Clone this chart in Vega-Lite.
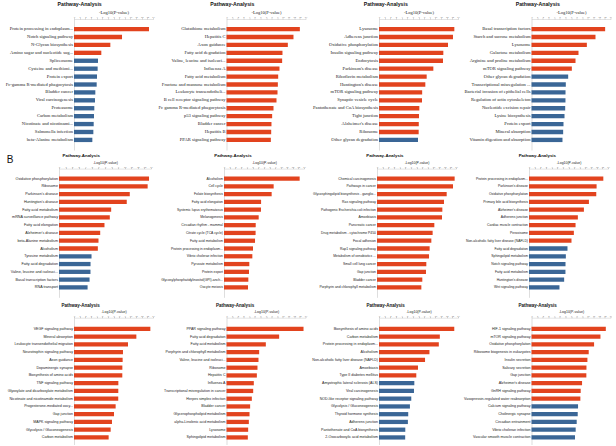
{
"$schema": "https://vega.github.io/schema/vega-lite/v6.json",
"padding": {"left": 5, "top": 2, "right": 0, "bottom": 0},
"background": "white",
"data": {"values": [
{"p":"a1","n":"Protein processing in endoplasm...","v":13.29,"d":"up"},
{"p":"a1","n":"Notch signaling pathway","v":8.51,"d":"up"},
{"p":"a1","n":"N-Glycan biosynthesis","v":6.44,"d":"up"},
{"p":"a1","n":"Amino sugar and nucleotide sug...","v":4.84,"d":"up"},
{"p":"a1","n":"Spliceosome","v":4.25,"d":"down"},
{"p":"a1","n":"Cysteine and methioni...","v":4.19,"d":"down"},
{"p":"a1","n":"Protein export","v":4.08,"d":"down"},
{"p":"a1","n":"Fc-gamma R-mediated phagocytosis","v":4.02,"d":"down"},
{"p":"a1","n":"Bladder cancer","v":3.78,"d":"down"},
{"p":"a1","n":"Viral carcinogenesis","v":3.72,"d":"down"},
{"p":"a1","n":"Proteasome","v":3.6,"d":"down"},
{"p":"a1","n":"Carbon metabolism","v":3.54,"d":"down"},
{"p":"a1","n":"Nicotinate and nicotinami...","v":3.49,"d":"down"},
{"p":"a1","n":"Salmonella infection","v":3.43,"d":"down"},
{"p":"a1","n":"beta-Alanine metabolism","v":3.25,"d":"down"},
{"p":"a2","n":"Glutathione metabolism","v":13.0,"d":"up"},
{"p":"a2","n":"Hepatitis C","v":11.87,"d":"up"},
{"p":"a2","n":"Axon guidance","v":10.87,"d":"up"},
{"p":"a2","n":"Fatty acid degradation","v":9.92,"d":"up"},
{"p":"a2","n":"Valine, leucine and isoleuci...","v":9.86,"d":"up"},
{"p":"a2","n":"Influenza A","v":9.39,"d":"up"},
{"p":"a2","n":"Fatty acid metabolism","v":9.16,"d":"up"},
{"p":"a2","n":"Fructose and mannose metabolism","v":9.1,"d":"up"},
{"p":"a2","n":"Leukocyte transendotheli...","v":9.04,"d":"up"},
{"p":"a2","n":"B cell receptor signaling pathway","v":8.86,"d":"up"},
{"p":"a2","n":"Fc gamma R-mediated phagocytosis","v":8.33,"d":"up"},
{"p":"a2","n":"p53 signaling pathway","v":8.09,"d":"up"},
{"p":"a2","n":"Bladder cancer","v":7.97,"d":"up"},
{"p":"a2","n":"Hepatitis B","v":7.92,"d":"up"},
{"p":"a2","n":"PPAR signaling pathway","v":7.86,"d":"up"},
{"p":"a3","n":"Lysosome","v":13.35,"d":"up"},
{"p":"a3","n":"Adherens junction","v":13.11,"d":"up"},
{"p":"a3","n":"Oxidative phosphorylation","v":12.23,"d":"up"},
{"p":"a3","n":"Insulin signaling pathway","v":11.4,"d":"up"},
{"p":"a3","n":"Endocytosis","v":11.34,"d":"up"},
{"p":"a3","n":"Parkinson's disease","v":9.63,"d":"up"},
{"p":"a3","n":"Riboflavin metabolism","v":8.45,"d":"up"},
{"p":"a3","n":"Huntington's disease","v":8.21,"d":"up"},
{"p":"a3","n":"mTOR signaling pathway","v":7.65,"d":"up"},
{"p":"a3","n":"Synaptic vesicle cycle","v":7.62,"d":"up"},
{"p":"a3","n":"Pantothenate and CoA biosynthesis","v":7.15,"d":"up"},
{"p":"a3","n":"Tight junction","v":7.09,"d":"up"},
{"p":"a3","n":"Alzheimer's disease","v":7.05,"d":"up"},
{"p":"a3","n":"Ribosome","v":7.03,"d":"up"},
{"p":"a3","n":"Other glycan degradation","v":6.91,"d":"down"},
{"p":"a4","n":"Basal transcription factors","v":13.05,"d":"up"},
{"p":"a4","n":"Starch and sucrose metabolism","v":11.34,"d":"up"},
{"p":"a4","n":"Lysosome","v":9.81,"d":"up"},
{"p":"a4","n":"Galactose metabolism","v":8.33,"d":"up"},
{"p":"a4","n":"Arginine and proline metabolism","v":7.8,"d":"up"},
{"p":"a4","n":"mTOR signaling pathway","v":7.15,"d":"up"},
{"p":"a4","n":"Other glycan degradation","v":6.5,"d":"down"},
{"p":"a4","n":"Transcriptional misregulation ...","v":6.08,"d":"down"},
{"p":"a4","n":"Bacterial invasion of epithelial cells","v":6.03,"d":"down"},
{"p":"a4","n":"Regulation of actin cytoskeleton","v":6.02,"d":"down"},
{"p":"a4","n":"Nucleotide excision repair","v":5.97,"d":"down"},
{"p":"a4","n":"Lysine biosynthesis","v":5.85,"d":"down"},
{"p":"a4","n":"Protein export","v":5.67,"d":"down"},
{"p":"a4","n":"Mineral absorption","v":5.61,"d":"down"},
{"p":"a4","n":"Vitamin digestion and absorption","v":5.49,"d":"down"},
{"p":"b1","n":"Oxidative phosphorylation","v":13.7,"d":"up"},
{"p":"b1","n":"Ribosome","v":13.49,"d":"up"},
{"p":"b1","n":"Parkinson's disease","v":10.77,"d":"up"},
{"p":"b1","n":"Huntington's disease","v":10.31,"d":"up"},
{"p":"b1","n":"Fatty acid metabolism","v":7.94,"d":"up"},
{"p":"b1","n":"mRNA surveillance pathway","v":7.73,"d":"up"},
{"p":"b1","n":"Fatty acid elongation","v":6.92,"d":"up"},
{"p":"b1","n":"Alzheimer's disease","v":6.27,"d":"up"},
{"p":"b1","n":"beta-Alanine metabolism","v":6.01,"d":"up"},
{"p":"b1","n":"Alcoholism","v":5.91,"d":"up"},
{"p":"b1","n":"Tyrosine metabolism","v":4.95,"d":"down"},
{"p":"b1","n":"Fatty acid degradation","v":4.8,"d":"down"},
{"p":"b1","n":"Valine, leucine and isoleuci...","v":4.79,"d":"down"},
{"p":"b1","n":"Basal transcription factors","v":4.65,"d":"down"},
{"p":"b1","n":"RNA transport","v":4.35,"d":"down"},
{"p":"b2","n":"Alcoholism","v":13.24,"d":"up"},
{"p":"b2","n":"Cell cycle","v":8.69,"d":"up"},
{"p":"b2","n":"Folate biosynthesis","v":8.34,"d":"up"},
{"p":"b2","n":"Fatty acid elongation","v":6.49,"d":"up"},
{"p":"b2","n":"Systemic lupus erythematosus","v":6.47,"d":"up"},
{"p":"b2","n":"Melanogenesis","v":6.07,"d":"up"},
{"p":"b2","n":"Circadian rhythm - mammal","v":5.55,"d":"up"},
{"p":"b2","n":"Citrate cycle (TCA cycle)","v":5.53,"d":"up"},
{"p":"b2","n":"Fatty acid metabolism","v":5.43,"d":"up"},
{"p":"b2","n":"Protein processing in endoplasm...","v":5.08,"d":"up"},
{"p":"b2","n":"Vibrio cholerae infection","v":4.96,"d":"up"},
{"p":"b2","n":"Pyruvate metabolism","v":4.43,"d":"up"},
{"p":"b2","n":"Protein export","v":4.38,"d":"up"},
{"p":"b2","n":"Glycosylphosphatidylinositol(GPI)-anch...","v":4.26,"d":"up"},
{"p":"b2","n":"Oocyte meiosis","v":4.2,"d":"up"},
{"p":"b3","n":"Chemical carcinogenesis","v":13.76,"d":"up"},
{"p":"b3","n":"Pathways in cancer","v":13.47,"d":"up"},
{"p":"b3","n":"Glycosphingolipid biosynthesis - ganglio...","v":12.35,"d":"up"},
{"p":"b3","n":"Ras signaling pathway","v":11.87,"d":"up"},
{"p":"b3","n":"Pathogenic Escherichia coli infection","v":11.58,"d":"up"},
{"p":"b3","n":"Amoebiasis","v":11.52,"d":"up"},
{"p":"b3","n":"Pancreatic cancer","v":10.16,"d":"up"},
{"p":"b3","n":"Drug metabolism - cytochrome P450","v":9.86,"d":"up"},
{"p":"b3","n":"Focal adhesion","v":9.63,"d":"up"},
{"p":"b3","n":"Rap1 signaling pathway","v":9.33,"d":"up"},
{"p":"b3","n":"Metabolism of xenobiotics ...","v":9.22,"d":"up"},
{"p":"b3","n":"Small cell lung cancer","v":8.74,"d":"up"},
{"p":"b3","n":"Gap junction","v":8.68,"d":"up"},
{"p":"b3","n":"Bladder cancer","v":8.03,"d":"up"},
{"p":"b3","n":"Porphyrin and chlorophyll metabolism","v":7.86,"d":"up"},
{"p":"b4","n":"Protein processing in endoplasm...","v":13.17,"d":"up"},
{"p":"b4","n":"Parkinson's disease","v":11.98,"d":"up"},
{"p":"b4","n":"Oxidative phosphorylation","v":11.92,"d":"up"},
{"p":"b4","n":"Primary bile acid biosynthesis","v":10.62,"d":"up"},
{"p":"b4","n":"Alzheimer's disease","v":9.73,"d":"up"},
{"p":"b4","n":"Adherens junction","v":8.66,"d":"up"},
{"p":"b4","n":"Cardiac muscle contraction","v":8.25,"d":"up"},
{"p":"b4","n":"Peroxisome","v":7.95,"d":"up"},
{"p":"b4","n":"Non-alcoholic fatty liver disease (NAFLD)","v":7.53,"d":"up"},
{"p":"b4","n":"Fatty acid degradation","v":6.82,"d":"down"},
{"p":"b4","n":"Sphingolipid metabolism","v":6.53,"d":"down"},
{"p":"b4","n":"Notch signaling pathway","v":6.47,"d":"down"},
{"p":"b4","n":"Fatty acid metabolism","v":6.46,"d":"down"},
{"p":"b4","n":"Huntington's disease","v":6.23,"d":"down"},
{"p":"b4","n":"Wnt signaling pathway","v":5.4,"d":"down"},
{"p":"c1","n":"VEGF signaling pathway","v":13.53,"d":"up"},
{"p":"c1","n":"Mineral absorption","v":11.05,"d":"up"},
{"p":"c1","n":"Leukocyte transendothelial migration","v":9.57,"d":"up"},
{"p":"c1","n":"Neurotrophin signaling pathway","v":8.68,"d":"up"},
{"p":"c1","n":"Axon guidance","v":8.62,"d":"up"},
{"p":"c1","n":"Dopaminergic synapse","v":8.57,"d":"up"},
{"p":"c1","n":"Biosynthesis of amino acids","v":8.56,"d":"up"},
{"p":"c1","n":"TNF signaling pathway","v":7.86,"d":"up"},
{"p":"c1","n":"Glyoxylate and dicarboxylate metabolism","v":7.85,"d":"up"},
{"p":"c1","n":"Nicotinate and nicotinamide metabolism","v":7.84,"d":"up"},
{"p":"c1","n":"Progesterone-mediated oocy...","v":7.38,"d":"up"},
{"p":"c1","n":"Gap junction","v":7.09,"d":"up"},
{"p":"c1","n":"MAPK signaling pathway","v":6.73,"d":"up"},
{"p":"c1","n":"Glycolysis / Gluconeogenesis","v":6.5,"d":"up"},
{"p":"c1","n":"Carbon metabolism","v":6.14,"d":"up"},
{"p":"c2","n":"PPAR signaling pathway","v":13.65,"d":"up"},
{"p":"c2","n":"Fatty acid degradation","v":9.33,"d":"up"},
{"p":"c2","n":"Fatty acid metabolism","v":6.97,"d":"up"},
{"p":"c2","n":"Porphyrin and chlorophyll metabolism","v":5.79,"d":"up"},
{"p":"c2","n":"Valine, leucine and isoleuci...","v":5.67,"d":"up"},
{"p":"c2","n":"Ribosome","v":5.49,"d":"up"},
{"p":"c2","n":"Hepatitis C","v":5.38,"d":"up"},
{"p":"c2","n":"Influenza A","v":4.84,"d":"up"},
{"p":"c2","n":"Transcriptional misregulation in cancer","v":4.73,"d":"up"},
{"p":"c2","n":"Herpes simplex infection","v":4.49,"d":"up"},
{"p":"c2","n":"Bladder cancer","v":4.19,"d":"up"},
{"p":"c2","n":"Glycerophospholipid metabolism","v":4.08,"d":"up"},
{"p":"c2","n":"alpha-Linolenic acid metabolism","v":3.96,"d":"up"},
{"p":"c2","n":"Lysosome","v":3.84,"d":"up"},
{"p":"c2","n":"Sphingolipid metabolism","v":3.78,"d":"up"},
{"p":"c3","n":"Biosynthesis of amino acids","v":13.34,"d":"up"},
{"p":"c3","n":"Carbon metabolism","v":10.78,"d":"up"},
{"p":"c3","n":"Protein processing in endoplasm...","v":10.6,"d":"up"},
{"p":"c3","n":"Alcoholism","v":8.94,"d":"up"},
{"p":"c3","n":"Non-alcoholic fatty liver disease (NAFLD)","v":8.16,"d":"up"},
{"p":"c3","n":"Amoebiasis","v":6.91,"d":"up"},
{"p":"c3","n":"Type II diabetes mellitus","v":6.61,"d":"up"},
{"p":"c3","n":"Amyotrophic lateral sclerosis (ALS)","v":6.26,"d":"down"},
{"p":"c3","n":"Viral carcinogenesis","v":6.2,"d":"down"},
{"p":"c3","n":"NOD-like receptor signaling pathway","v":5.72,"d":"down"},
{"p":"c3","n":"Glycolysis / Gluconeogenesis","v":5.48,"d":"down"},
{"p":"c3","n":"Thyroid hormone synthesis","v":5.18,"d":"down"},
{"p":"c3","n":"Adherens junction","v":5.12,"d":"down"},
{"p":"c3","n":"Pantothenate and CoA biosynthesis","v":4.66,"d":"down"},
{"p":"c3","n":"2-Oxocarboxylic acid metabolism","v":4.64,"d":"down"},
{"p":"c4","n":"HIF-1 signaling pathway","v":13.17,"d":"up"},
{"p":"c4","n":"mTOR signaling pathway","v":12.22,"d":"up"},
{"p":"c4","n":"Oxidative phosphorylation","v":11.09,"d":"up"},
{"p":"c4","n":"Ribosome biogenesis in eukaryotes","v":10.14,"d":"up"},
{"p":"c4","n":"Insulin secretion","v":9.91,"d":"up"},
{"p":"c4","n":"Salivary secretion","v":9.74,"d":"up"},
{"p":"c4","n":"Gap junction","v":9.72,"d":"up"},
{"p":"c4","n":"Alzheimer's disease","v":8.96,"d":"up"},
{"p":"c4","n":"GnRH signaling pathway","v":8.72,"d":"up"},
{"p":"c4","n":"Vasopressin-regulated water reabsorption","v":8.66,"d":"up"},
{"p":"c4","n":"Calcium signaling pathway","v":8.25,"d":"down"},
{"p":"c4","n":"Cholinergic synapse","v":8.19,"d":"down"},
{"p":"c4","n":"Circadian entrainment","v":8.01,"d":"down"},
{"p":"c4","n":"Vibrio cholerae infection","v":7.83,"d":"down"},
{"p":"c4","n":"Vascular smooth muscle contraction","v":7.71,"d":"down"}
]},
"resolve": {"scale": {"x": "independent", "y": "independent", "color": "shared"}},
"spacing": -12.4,
"vconcat": [
{
"bounds": "flush", "spacing": 0,
"resolve": {"scale": {"x": "independent", "y": "independent"}},
"hconcat": [
{"width": 14.7, "height": 10, "data": {"values": [{"s": 0}]}, "mark": {"type": "point", "opacity": 0}, "encoding": {}},
{
"bounds": "flush", "spacing": 73.5,
"resolve": {"scale": {"x": "independent", "y": "independent"}},
"hconcat": [
{"width": 79, "height": 131, "title": {"text": "Pathway-Analysis", "fontSize": 5.2},
 "transform": [{"filter": "datum.p == 'a1'"}], "mark": "bar",
 "encoding": {
  "y": {"field": "n", "type": "nominal", "sort": null, "scale": {"paddingInner": 0.45, "paddingOuter": 1.25}, "axis": {"title": "B", "titleAngle": 0, "titleX": -67.7, "titleY": 140.5, "titleAlign": "left", "titleBaseline": "middle", "titleFontSize": 10, "titleFontWeight": "normal", "titleFont": "Liberation Sans", "titleColor": "#111", "labelFont": "Liberation Serif", "labelFontSize": 4.6}},
  "x": {"field": "v", "type": "quantitative", "scale": {"domain": [0, 14], "nice": false}, "axis": {"orient": "top", "title": "-Log10(P-value)", "titleFont": "Liberation Serif", "titleFontSize": 4.5}},
  "color": {"field": "d", "type": "nominal", "scale": {"domain": ["up", "down"], "range": ["#e2431e", "#3a6696"]}, "legend": null}}},
{"width": 79, "height": 131, "title": {"text": "Pathway-Analysis", "fontSize": 5.2},
 "transform": [{"filter": "datum.p == 'a2'"}], "mark": "bar",
 "encoding": {
  "y": {"field": "n", "type": "nominal", "sort": null, "scale": {"paddingInner": 0.45, "paddingOuter": 1.25}, "axis": {"title": null, "labelFont": "Liberation Serif", "labelFontSize": 4.6}},
  "x": {"field": "v", "type": "quantitative", "scale": {"domain": [0, 14], "nice": false}, "axis": {"orient": "top", "title": "-Log10(P-value)", "titleFont": "Liberation Serif", "titleFontSize": 4.5}},
  "color": {"field": "d", "type": "nominal", "scale": {"domain": ["up", "down"], "range": ["#e2431e", "#3a6696"]}, "legend": null}}},
{"width": 79, "height": 131, "title": {"text": "Pathway-Analysis", "fontSize": 5.2},
 "transform": [{"filter": "datum.p == 'a3'"}], "mark": "bar",
 "encoding": {
  "y": {"field": "n", "type": "nominal", "sort": null, "scale": {"paddingInner": 0.45, "paddingOuter": 1.25}, "axis": {"title": null, "labelFont": "Liberation Serif", "labelFontSize": 4.6}},
  "x": {"field": "v", "type": "quantitative", "scale": {"domain": [0, 14], "nice": false}, "axis": {"orient": "top", "title": "-Log10(P-value)", "titleFont": "Liberation Serif", "titleFontSize": 4.5}},
  "color": {"field": "d", "type": "nominal", "scale": {"domain": ["up", "down"], "range": ["#e2431e", "#3a6696"]}, "legend": null}}},
{"width": 79, "height": 131, "title": {"text": "Pathway-Analysis", "fontSize": 5.2},
 "transform": [{"filter": "datum.p == 'a4'"}], "mark": "bar",
 "encoding": {
  "y": {"field": "n", "type": "nominal", "sort": null, "scale": {"paddingInner": 0.45, "paddingOuter": 1.25}, "axis": {"title": null, "labelFont": "Liberation Serif", "labelFontSize": 4.6}},
  "x": {"field": "v", "type": "quantitative", "scale": {"domain": [0, 14], "nice": false}, "axis": {"orient": "top", "title": "-Log10(P-value)", "titleFont": "Liberation Serif", "titleFontSize": 4.5}},
  "color": {"field": "d", "type": "nominal", "scale": {"domain": ["up", "down"], "range": ["#e2431e", "#3a6696"]}, "legend": null}}}
]}
]},
{
"spacing": 5.1,
"resolve": {"scale": {"x": "independent", "y": "independent"}},
"vconcat": [
{
"bounds": "flush", "spacing": 73,
"resolve": {"scale": {"x": "independent", "y": "independent"}},
"hconcat": [
{"width": 92, "height": 128.7, "title": {"text": "Pathway-Analysis", "fontSize": 4.4},
 "transform": [{"filter": "datum.p == 'b1'"}], "mark": "bar",
 "encoding": {
  "y": {"field": "n", "type": "nominal", "sort": null, "scale": {"paddingInner": 0.45, "paddingOuter": 1.25}, "axis": {"title": null, "labelFont": "Liberation Sans", "labelFontSize": 3.7}},
  "x": {"field": "v", "type": "quantitative", "scale": {"domain": [0, 14], "nice": false}, "axis": {"orient": "top", "title": "-Log10(P-value)", "titleFont": "Liberation Sans", "titleFontSize": 3.45}},
  "color": {"field": "d", "type": "nominal", "scale": {"domain": ["up", "down"], "range": ["#e2431e", "#3a6696"]}, "legend": null}}},
{"width": 80, "height": 128.7, "title": {"text": "Pathway-Analysis", "fontSize": 4.4},
 "transform": [{"filter": "datum.p == 'b2'"}], "mark": "bar",
 "encoding": {
  "y": {"field": "n", "type": "nominal", "sort": null, "scale": {"paddingInner": 0.45, "paddingOuter": 1.25}, "axis": {"title": null, "labelFont": "Liberation Sans", "labelFontSize": 3.4}},
  "x": {"field": "v", "type": "quantitative", "scale": {"domain": [0, 14], "nice": false}, "axis": {"orient": "top", "title": "-Log10(P-value)", "titleFont": "Liberation Sans", "titleFontSize": 3.45}},
  "color": {"field": "d", "type": "nominal", "scale": {"domain": ["up", "down"], "range": ["#e2431e", "#3a6696"]}, "legend": null}}},
{"width": 79, "height": 128.7, "title": {"text": "Pathway-Analysis", "fontSize": 4.4},
 "transform": [{"filter": "datum.p == 'b3'"}], "mark": "bar",
 "encoding": {
  "y": {"field": "n", "type": "nominal", "sort": null, "scale": {"paddingInner": 0.45, "paddingOuter": 1.25}, "axis": {"title": null, "labelFont": "Liberation Sans", "labelFontSize": 3.4}},
  "x": {"field": "v", "type": "quantitative", "scale": {"domain": [0, 14], "nice": false}, "axis": {"orient": "top", "title": "-Log10(P-value)", "titleFont": "Liberation Sans", "titleFontSize": 3.45}},
  "color": {"field": "d", "type": "nominal", "scale": {"domain": ["up", "down"], "range": ["#e2431e", "#3a6696"]}, "legend": null}}},
{"width": 79, "height": 128.7, "title": {"text": "Pathway-Analysis", "fontSize": 4.4},
 "transform": [{"filter": "datum.p == 'b4'"}], "mark": "bar",
 "encoding": {
  "y": {"field": "n", "type": "nominal", "sort": null, "scale": {"paddingInner": 0.45, "paddingOuter": 1.25}, "axis": {"title": null, "labelFont": "Liberation Sans", "labelFontSize": 3.4}},
  "x": {"field": "v", "type": "quantitative", "scale": {"domain": [0, 14], "nice": false}, "axis": {"orient": "top", "title": "-Log10(P-value)", "titleFont": "Liberation Sans", "titleFontSize": 3.45}},
  "color": {"field": "d", "type": "nominal", "scale": {"domain": ["up", "down"], "range": ["#e2431e", "#3a6696"]}, "legend": null}}}
]},
{
"bounds": "flush", "spacing": 0,
"resolve": {"scale": {"x": "independent", "y": "independent"}},
"hconcat": [
{"width": 14.7, "height": 10, "data": {"values": [{"s": 0}]}, "mark": {"type": "point", "opacity": 0}, "encoding": {}},
{
"bounds": "flush", "spacing": 73.5,
"resolve": {"scale": {"x": "independent", "y": "independent"}},
"hconcat": [
{"width": 79, "height": 127, "title": {"text": "Pathway-Analysis", "fontSize": 4.5},
 "transform": [{"filter": "datum.p == 'c1'"}], "mark": "bar",
 "encoding": {
  "y": {"field": "n", "type": "nominal", "sort": null, "scale": {"paddingInner": 0.45, "paddingOuter": 0.92, "align": 0.64}, "axis": {"title": null, "labelFont": "Liberation Sans", "labelFontSize": 3.6}},
  "x": {"field": "v", "type": "quantitative", "scale": {"domain": [0, 14], "nice": false}, "axis": {"orient": "top", "title": "-Log10(P-value)", "titleFont": "Liberation Sans", "titleFontSize": 3.5}},
  "color": {"field": "d", "type": "nominal", "scale": {"domain": ["up", "down"], "range": ["#e2431e", "#3a6696"]}, "legend": null}}},
{"width": 79, "height": 127, "title": {"text": "Pathway-Analysis", "fontSize": 4.5},
 "transform": [{"filter": "datum.p == 'c2'"}], "mark": "bar",
 "encoding": {
  "y": {"field": "n", "type": "nominal", "sort": null, "scale": {"paddingInner": 0.45, "paddingOuter": 0.92, "align": 0.64}, "axis": {"title": null, "labelFont": "Liberation Sans", "labelFontSize": 3.6}},
  "x": {"field": "v", "type": "quantitative", "scale": {"domain": [0, 14], "nice": false}, "axis": {"orient": "top", "title": "-Log10(P-value)", "titleFont": "Liberation Sans", "titleFontSize": 3.5}},
  "color": {"field": "d", "type": "nominal", "scale": {"domain": ["up", "down"], "range": ["#e2431e", "#3a6696"]}, "legend": null}}},
{"width": 79, "height": 127, "title": {"text": "Pathway-Analysis", "fontSize": 4.5},
 "transform": [{"filter": "datum.p == 'c3'"}], "mark": "bar",
 "encoding": {
  "y": {"field": "n", "type": "nominal", "sort": null, "scale": {"paddingInner": 0.45, "paddingOuter": 0.92, "align": 0.64}, "axis": {"title": null, "labelFont": "Liberation Sans", "labelFontSize": 3.6}},
  "x": {"field": "v", "type": "quantitative", "scale": {"domain": [0, 14], "nice": false}, "axis": {"orient": "top", "title": "-Log10(P-value)", "titleFont": "Liberation Sans", "titleFontSize": 3.5}},
  "color": {"field": "d", "type": "nominal", "scale": {"domain": ["up", "down"], "range": ["#e2431e", "#3a6696"]}, "legend": null}}},
{"width": 79, "height": 127, "title": {"text": "Pathway-Analysis", "fontSize": 4.5},
 "transform": [{"filter": "datum.p == 'c4'"}], "mark": "bar",
 "encoding": {
  "y": {"field": "n", "type": "nominal", "sort": null, "scale": {"paddingInner": 0.45, "paddingOuter": 0.92, "align": 0.64}, "axis": {"title": null, "labelFont": "Liberation Sans", "labelFontSize": 3.6}},
  "x": {"field": "v", "type": "quantitative", "scale": {"domain": [0, 14], "nice": false}, "axis": {"orient": "top", "title": "-Log10(P-value)", "titleFont": "Liberation Sans", "titleFontSize": 3.5}},
  "color": {"field": "d", "type": "nominal", "scale": {"domain": ["up", "down"], "range": ["#e2431e", "#3a6696"]}, "legend": null}}}
]}
]}
]}
],
"config": {
 "view": {"stroke": null},
 "title": {"font": "Liberation Sans", "fontWeight": "bold", "frame": "bounds", "anchor": "middle", "offset": 2, "color": "#111"},
 "axisY": {"domainColor": "#c8c8c8", "domainWidth": 0.6, "ticks": false, "labelPadding": 1.5, "labelColor": "#222", "grid": false, "labelLimit": 200},
 "axisX": {"domainColor": "#c8c8c8", "domainWidth": 0.5, "tickSize": 1.2, "tickColor": "#999", "tickWidth": 0.5, "labelFontSize": 2.2, "labelColor": "#777", "labelPadding": 0.3, "titlePadding": 1, "titleFontWeight": "normal", "titleColor": "#222", "grid": false, "tickCount": 14, "labelFlush": false, "labelOverlap": false}
}
}
